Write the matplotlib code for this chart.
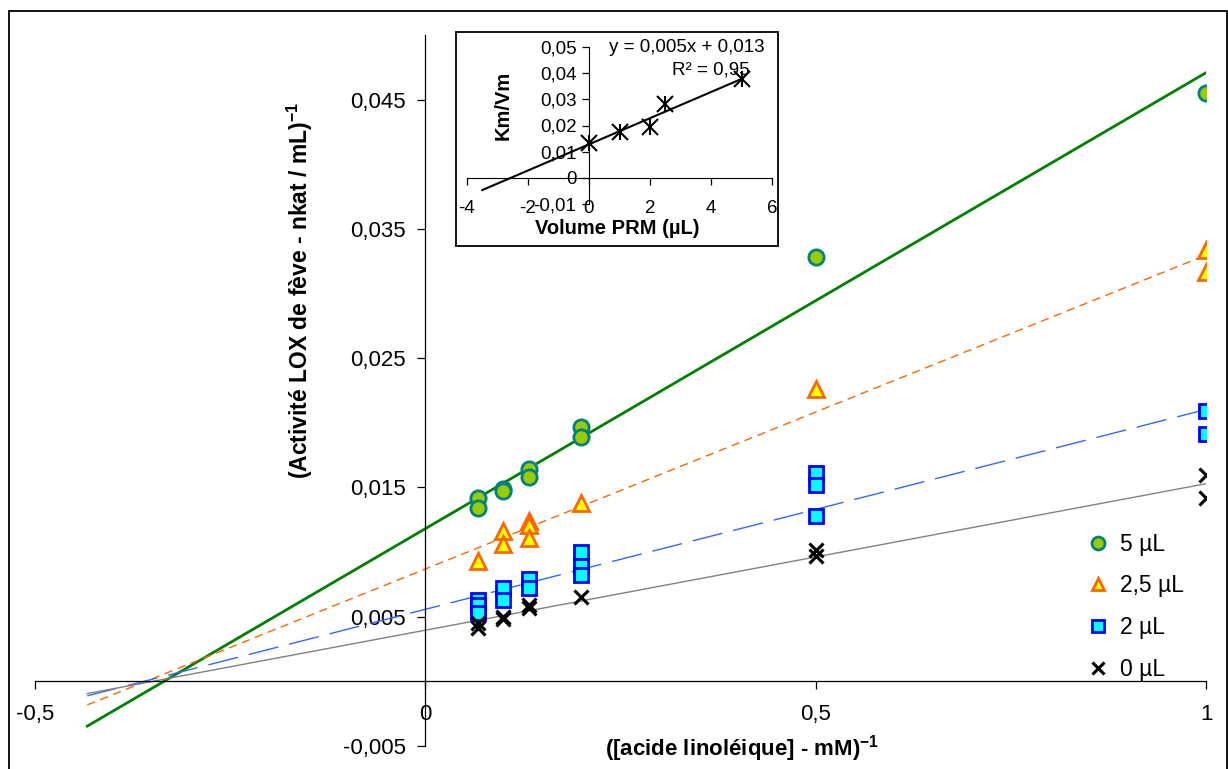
import numpy as np
import matplotlib.pyplot as plt
from matplotlib.patches import Rectangle

plt.rcParams['font.family'] = ['Liberation Sans', 'DejaVu Sans']
plt.rcParams['mathtext.fontset'] = 'custom'
plt.rcParams['mathtext.rm'] = 'Liberation Sans'
plt.rcParams['mathtext.bf'] = 'Liberation Sans:bold'

# Lineweaver-Burk data: 1/[S] (mM-1) vs 1/v, per volume of PRM
x_5 = [0.067, 0.067, 0.1, 0.1, 0.133, 0.133, 0.2, 0.2, 0.5, 1]
y_5 = [0.0142, 0.0134, 0.0149, 0.0147, 0.0164, 0.0158, 0.0197, 0.0189, 0.0328, 0.0455]

x_25 = [0.067, 0.1, 0.1, 0.133, 0.133, 0.133, 0.2, 0.5, 1, 1]
y_25 = [0.0093, 0.01165, 0.0106, 0.0124, 0.0121, 0.0111, 0.0138, 0.0226, 0.0334, 0.0317]

x_2 = [0.067, 0.067, 0.067, 0.1, 0.1, 0.133, 0.133, 0.2, 0.2, 0.2, 0.5, 0.5, 0.5, 1, 1]
y_2 = [0.0063, 0.0059, 0.0053, 0.0072, 0.0063, 0.0079, 0.0072, 0.0100, 0.0089, 0.0082,
       0.0161, 0.0152, 0.0128, 0.0209, 0.0191]

x_0 = [0.067, 0.067, 0.1, 0.1, 0.133, 0.133, 0.2, 0.5, 0.5, 1, 1]
y_0 = [0.0045, 0.0041, 0.0050, 0.0048, 0.0059, 0.0057, 0.0065, 0.0102, 0.0097, 0.0160, 0.0142]

# inset: Km/Vm vs PRM volume
vol_prm = [0, 1, 2, 2.5, 5]
km_vm = [0.0134, 0.0176, 0.0195, 0.0284, 0.0376]

xticks = [-0.5, 0, 0.5, 1]
xtick_labels = ['-0,5', '0', '0,5', '1']
yticks = [-0.005, 0.005, 0.015, 0.025, 0.035, 0.045]
ytick_labels = ['-0,005', '0,005', '0,015', '0,025', '0,035', '0,045']

fig = plt.figure(figsize=(12.28, 7.69), dpi=100)
ax = fig.add_axes([0.0285, 0.0299, 0.9536, 0.9246])

series = [
    (x_5, y_5, '5 µL', dict(marker='o', mfc='#99CC00', mec='#008080', ms=11, mew=2.0),
     dict(color='#008000', lw=2.0, ls='-')),
    (x_25, y_25, '2,5 µL', dict(marker='^', mfc='#FFFF00', mec='#FF6600', ms=11, mew=2.0),
     dict(color='#FF6600', lw=1.0, ls=(0, (6, 4)))),
    (x_2, y_2, '2 µL', dict(marker='s', mfc='#00FFFF', mec='#0000FF', ms=9.5, mew=2.0),
     dict(color='#3366FF', lw=1.0, ls=(0, (22, 8)))),
    (x_0, y_0, '0 µL', dict(marker='x', color='black', ms=10, mew=2.2),
     dict(color='#808080', lw=1.0, ls='-')),
]

for xs, ys, lab, mstyle, lstyle in series:
    xs = np.array(xs)
    ys = np.array(ys)
    slope, icpt = np.polyfit(xs, ys, 1)
    xl = np.array([xs.min() - 0.5, xs.max()])
    ax.plot(xl, slope * xl + icpt, zorder=2, **lstyle)

for xs, ys, lab, mstyle, lstyle in series:
    ax.plot(xs, ys, ls='none', label=lab, zorder=3, **mstyle)

ax.set_xlim(-0.5, 1)
ax.set_ylim(-0.005, 0.05)
ax.spines['left'].set_position(('data', 0))
ax.spines['bottom'].set_position(('data', 0))
ax.spines['top'].set_visible(False)
ax.spines['right'].set_visible(False)
for s in ['left', 'bottom']:
    ax.spines[s].set_linewidth(0.9)
ax.set_xticks(xticks)
ax.set_xticklabels(xtick_labels)
ax.set_yticks(yticks)
ax.set_yticklabels(ytick_labels)
ax.tick_params(axis='both', direction='out', length=6, width=0.9, labelsize=16)
ax.tick_params(axis='x', pad=10)
ax.tick_params(axis='y', pad=8)
ax.patch.set_alpha(0)

fig.text(300 / 1228, 1 - 290 / 769, r'(Activité LOX de fève - nkat / mL)$^{\mathbf{-1}}$',
         rotation=90, ha='center', va='center', fontsize=16.5, fontweight='bold')
fig.text(742 / 1228, 1 - 749 / 769, r'([acide linoléique] - mM)$^{\mathbf{-1}}$',
         ha='center', va='center', fontsize=16, fontweight='bold')

ax.legend(loc='upper left', bbox_to_anchor=(1068 / 1228, 1 - 512 / 769),
          bbox_transform=fig.transFigure, frameon=False, fontsize=16.5,
          markerscale=0.85, handlelength=0.8, handletextpad=0.55, labelspacing=0.82)

# outer chart border
fig.patches.append(Rectangle((9 / 1228, -0.01), 1218 / 1228, 1 - 11 / 769 + 0.01,
                             transform=fig.transFigure, fill=False, ec='black', lw=1.3))

# inset
box = Rectangle((456 / 1228, 1 - 246 / 769), 322 / 1228, 214 / 769,
                transform=fig.transFigure, fc='white', ec='black', lw=1.3, zorder=5)
fig.patches.append(box)

ins = fig.add_axes([467 / 1228, 1 - 204 / 769, 305 / 1228, 157 / 769])
ins.set_zorder(6)
ins.patch.set_alpha(0)
vp = np.array(vol_prm)
kv = np.array(km_vm)
a, b = np.polyfit(vp, kv, 1)
xl = np.array([-3.5, 5])
ins.plot(xl, a * xl + b, color='black', lw=1.5)
ins.plot(vp, kv, ls='none', marker='x', color='black', ms=11, mew=1.5)
ins.plot(vp, kv, ls='none', marker='|', color='black', ms=12, mew=1.5)
ins.set_xlim(-4, 6)
ins.set_ylim(-0.01, 0.05)
ins.spines['left'].set_position(('data', 0))
ins.spines['bottom'].set_position(('data', 0))
ins.spines['top'].set_visible(False)
ins.spines['right'].set_visible(False)
ins.set_xticks([-4, -2, 0, 2, 4, 6])
ins.set_xticklabels(['-4', '-2', '0', '2', '4', '6'])
ins.set_yticks([-0.01, 0, 0.01, 0.02, 0.03, 0.04, 0.05])
ins.set_yticklabels(['-0,01', '0', '0,01', '0,02', '0,03', '0,04', '0,05'])
ins.tick_params(axis='both', direction='out', length=5, width=0.9, labelsize=13.5)
ins.tick_params(axis='x', pad=11)
ins.tick_params(axis='y', pad=4)
ins.text(3.22, 0.0498, 'y = 0,005x + 0,013', ha='center', va='center', fontsize=13.5)
ins.text(4.0, 0.0412, 'R² = 0,95', ha='center', va='center', fontsize=13.5)
fig.text(503 / 1228, 1 - 105 / 769, 'Km/Vm', rotation=90, ha='center', va='center',
         fontsize=14.5, fontweight='bold', zorder=7)
fig.text(617 / 1228, 1 - 228 / 769, 'Volume PRM (µL)', ha='center', va='center',
         fontsize=14.5, fontweight='bold', zorder=7)

fig.savefig('out.png', dpi=100)
